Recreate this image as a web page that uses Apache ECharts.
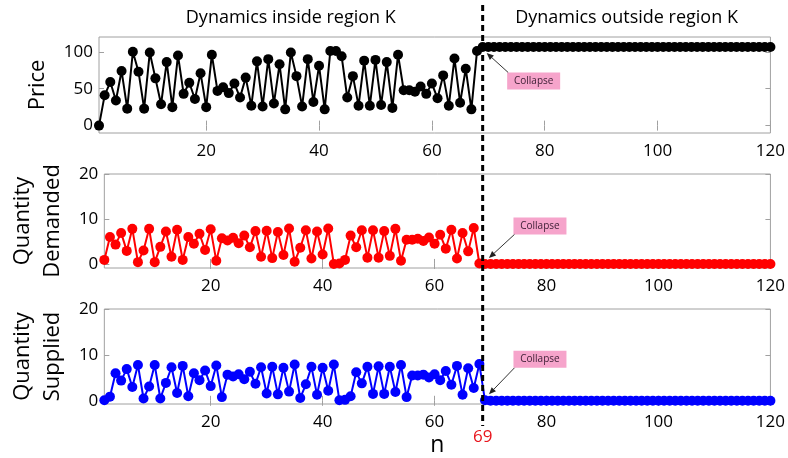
<!DOCTYPE html>
<html>
<head>
<meta charset="utf-8">
<script src="https://cdn.jsdelivr.net/npm/echarts@6/dist/echarts.min.js"></script>
<style>
  html, body { margin: 0; padding: 0; background: #fff; }
  #chart { width: 788px; height: 458px; }
</style>
</head>
<body>
<div id="chart"></div>
<script>
// Price per step n = 1..120 (steps 69..120 sit on the post-collapse plateau)
const price = [
  0, 41, 59, 34, 74, 23, 100, 73, 23, 99,
  64, 29, 86, 25, 95, 43, 58, 36, 71, 25,
  96, 47, 52, 44, 57, 38, 65, 27, 87, 26,
  90, 30, 83, 22, 99, 67, 26, 90, 32, 81,
  22, 101, 101, 94, 38, 67, 27, 88, 27, 89,
  28, 86, 24, 96, 48, 48, 46, 53, 43, 57,
  37, 68, 27, 91, 31, 77, 22, 101,
  106.5, 106.5, 106.5, 106.5, 106.5, 106.5, 106.5, 106.5, 106.5, 106.5,
  106.5, 106.5, 106.5, 106.5, 106.5, 106.5, 106.5, 106.5, 106.5, 106.5,
  106.5, 106.5, 106.5, 106.5, 106.5, 106.5, 106.5, 106.5, 106.5, 106.5,
  106.5, 106.5, 106.5, 106.5, 106.5, 106.5, 106.5, 106.5, 106.5, 106.5,
  106.5, 106.5, 106.5, 106.5, 106.5, 106.5, 106.5, 106.5, 106.5, 106.5,
  106.5, 106.5
];

// Quantity demanded per step
const demanded = [
  0.9, 6.0, 4.3, 6.9, 2.9, 7.8, 0.4, 3.0, 7.8, 0.4,
  3.8, 7.2, 1.6, 7.6, 0.9, 6.0, 4.5, 6.7, 3.1, 7.7,
  0.7, 5.7, 5.2, 5.8, 4.6, 6.3, 3.7, 7.3, 1.6, 7.4,
  1.3, 7.1, 2.0, 7.9, 0.5, 3.6, 7.5, 1.2, 7.2, 2.1,
  7.9, 0.0, 0.1, 0.9, 6.3, 3.7, 7.5, 1.4, 7.5, 1.4,
  7.3, 1.8, 7.8, 0.7, 5.4, 5.4, 5.6, 5.1, 5.9, 4.5,
  6.5, 3.4, 7.6, 1.2, 6.9, 2.8, 8.0, 0.1,
  0, 0, 0, 0, 0, 0, 0, 0, 0, 0,
  0, 0, 0, 0, 0, 0, 0, 0, 0, 0,
  0, 0, 0, 0, 0, 0, 0, 0, 0, 0,
  0, 0, 0, 0, 0, 0, 0, 0, 0, 0,
  0, 0, 0, 0, 0, 0, 0, 0, 0, 0,
  0, 0
];

// Quantity supplied per step
const supplied = [
  0.1, 0.9, 6.0, 4.4, 6.9, 3.0, 7.8, 0.5, 3.1, 7.8,
  0.5, 3.9, 7.3, 1.7, 7.6, 1.0, 6.0, 4.5, 6.6, 3.2,
  7.7, 0.8, 5.7, 5.3, 5.8, 4.7, 6.3, 3.7, 7.3, 1.6,
  7.4, 1.4, 7.2, 2.0, 7.9, 0.6, 3.6, 7.4, 1.3, 7.2,
  2.2, 7.9, 0.1, 0.2, 1.0, 6.2, 3.8, 7.4, 1.5, 7.5,
  1.5, 7.4, 1.9, 7.8, 0.8, 5.5, 5.5, 5.7, 5.1, 5.8,
  4.5, 6.5, 3.5, 7.6, 1.3, 7.1, 2.8, 8.0, 0.1,
  0, 0, 0, 0, 0, 0, 0, 0, 0, 0,
  0, 0, 0, 0, 0, 0, 0, 0, 0, 0,
  0, 0, 0, 0, 0, 0, 0, 0, 0, 0,
  0, 0, 0, 0, 0, 0, 0, 0, 0, 0,
  0, 0, 0, 0, 0, 0, 0, 0, 0, 0,
  0
];

const xTicks = [20, 40, 60, 80, 100, 120];
const priceTicks = [0, 50, 100];
const quantityTicks = [0, 10, 20];
const collapseStep = 69;
const titles = ['Dynamics inside region K', 'Dynamics outside region K'];
const yNames = ['Price', 'Quantity\nDemanded', 'Quantity\nSupplied'];

const FONT = 'Open Sans';
const GRID_COLOR = '#a0a0a0';

const steps = price.map((_, i) => i + 1);
const toPairs = arr => arr.map((v, i) => [steps[i], v]);

const panels = [
  { top: 37,  height: 96, min: -10, max: 120, ticks: priceTicks,    values: price,    color: '#000000' },
  { top: 174, height: 94, min: -0.9, max: 20, ticks: quantityTicks, values: demanded, color: '#ff0000' },
  { top: 309, height: 95, min: -0.7, max: 20, ticks: quantityTicks, values: supplied, color: '#0000ff' }
];

const grid = [], xAxis = [], yAxis = [], series = [];
panels.forEach((p, g) => {
  grid.push({
    left: 99, right: 13, top: p.top, height: p.height,
    show: true, borderColor: GRID_COLOR, borderWidth: 1, backgroundColor: '#fff'
  });
  const tick = { show: true, inside: true, length: 5, lineStyle: { color: GRID_COLOR, width: 1 } };
  // bottom axis with labels, top axis mirrors the ticks
  xAxis.push({
    type: 'value', gridIndex: g, min: 1, max: 120, position: 'bottom',
    axisLine: { show: false }, splitLine: { show: false },
    axisTick: Object.assign({ customValues: xTicks }, tick),
    axisLabel: { customValues: xTicks, color: '#000', fontSize: 17, fontFamily: FONT, margin: 10 },
    name: g === 2 ? 'n' : '', nameLocation: 'middle', nameGap: 30,
    nameTextStyle: { fontSize: 23, color: '#000', fontFamily: FONT }
  });
  xAxis.push({
    type: 'value', gridIndex: g, min: 1, max: 120, position: 'top',
    axisLine: { show: false }, splitLine: { show: false },
    axisTick: Object.assign({ customValues: xTicks }, tick),
    axisLabel: { show: false }
  });
  yAxis.push({
    type: 'value', gridIndex: g, min: p.min, max: p.max, position: 'left',
    axisLine: { show: false }, splitLine: { show: false },
    axisTick: Object.assign({ customValues: p.ticks }, tick),
    axisLabel: { customValues: p.ticks, color: '#000', fontSize: 17, fontFamily: FONT, margin: 6 },
    name: yNames[g], nameLocation: 'middle', nameRotate: 90,
    nameGap: g === 0 ? 44 : 32,
    nameTextStyle: { fontSize: 22, color: '#000', fontFamily: FONT, lineHeight: 30 }
  });
  yAxis.push({
    type: 'value', gridIndex: g, min: p.min, max: p.max, position: 'right',
    axisLine: { show: false }, splitLine: { show: false },
    axisTick: Object.assign({ customValues: p.ticks }, tick),
    axisLabel: { show: false }
  });
  series.push({
    type: 'line', xAxisIndex: 2 * g, yAxisIndex: 2 * g,
    data: toPairs(p.values),
    symbol: 'circle', symbolSize: 10, showSymbol: true,
    lineStyle: { color: p.color, width: 2 },
    itemStyle: { color: p.color },
    emphasis: { disabled: true },
    clip: false, z: 3
  });
});

const chart = echarts.init(document.getElementById('chart'), null, { renderer: 'canvas' });
chart.setOption({
  animation: false,
  backgroundColor: '#fff',
  grid, xAxis, yAxis, series
});

// Overlays placed from the axes: region split, titles, collapse callouts
const xSplit = chart.convertToPixel({ xAxisIndex: 0 }, collapseStep);
const xFirst = chart.convertToPixel({ xAxisIndex: 0 }, 1);
const xLast = chart.convertToPixel({ xAxisIndex: 0 }, 120);
const graphics = [];

titles.forEach((t, i) => {
  graphics.push({
    type: 'text', z: 10,
    x: i === 0 ? (xFirst + xSplit) / 2 : (xSplit + xLast) / 2, y: 18,
    style: { text: t, fill: '#000', font: '18px "' + FONT + '"', textAlign: 'center', textVerticalAlign: 'middle' }
  });
});

graphics.push({
  type: 'line', z: 20,
  shape: { x1: xSplit, y1: 5, x2: xSplit, y2: 426 },
  style: { stroke: '#000', lineWidth: 3, lineDash: [6, 4] }
});

graphics.push({
  type: 'text', z: 20, x: xSplit, y: 437,
  style: { text: String(collapseStep), fill: '#e8141c', font: '17px "' + FONT + '"', textAlign: 'center', textVerticalAlign: 'middle' }
});

// box centre offset from the collapse point, and arrow start at the box corner
const callouts = [
  { g: 0, dx: 51, dy: 34,  from: 'top' },
  { g: 1, dx: 55, dy: -38, from: 'bottom' },
  { g: 2, dx: 55, dy: -41, from: 'bottom' }
];
const boxW = 53, boxH = 17;
callouts.forEach(c => {
  const p = panels[c.g];
  const pt = chart.convertToPixel({ xAxisIndex: 2 * c.g, yAxisIndex: 2 * c.g },
                                  [collapseStep, p.values[collapseStep - 1]]);
  const cx = pt[0] + c.dx, cy = pt[1] + c.dy;
  graphics.push({
    type: 'rect', z: 15,
    shape: { x: cx - boxW / 2, y: cy - boxH / 2, width: boxW, height: boxH },
    style: { fill: '#f6a4cb' }
  });
  graphics.push({
    type: 'text', z: 16, x: cx, y: cy,
    style: { text: 'Collapse', fill: '#3b1d33', font: '10px "' + FONT + '"', textAlign: 'center', textVerticalAlign: 'middle' }
  });
  const sx = cx - boxW / 2 + 1;
  const sy = c.from === 'top' ? cy - boxH / 2 : cy + boxH / 2;
  const ex = pt[0] + 4, ey = pt[1] + (c.from === 'top' ? 6 : -6);
  const ang = Math.atan2(ey - sy, ex - sx);
  const hl = 7, hw = 3;
  const bx = ex - hl * Math.cos(ang), by = ey - hl * Math.sin(ang);
  graphics.push({
    type: 'line', z: 16,
    shape: { x1: sx, y1: sy, x2: bx, y2: by },
    style: { stroke: '#333', lineWidth: 1 }
  });
  graphics.push({
    type: 'polygon', z: 16,
    shape: { points: [
      [ex, ey],
      [bx + hw * Math.sin(ang), by - hw * Math.cos(ang)],
      [bx - hw * Math.sin(ang), by + hw * Math.cos(ang)]
    ] },
    style: { fill: '#222' }
  });
});

chart.setOption({ graphic: graphics });
</script>
</body>
</html>
